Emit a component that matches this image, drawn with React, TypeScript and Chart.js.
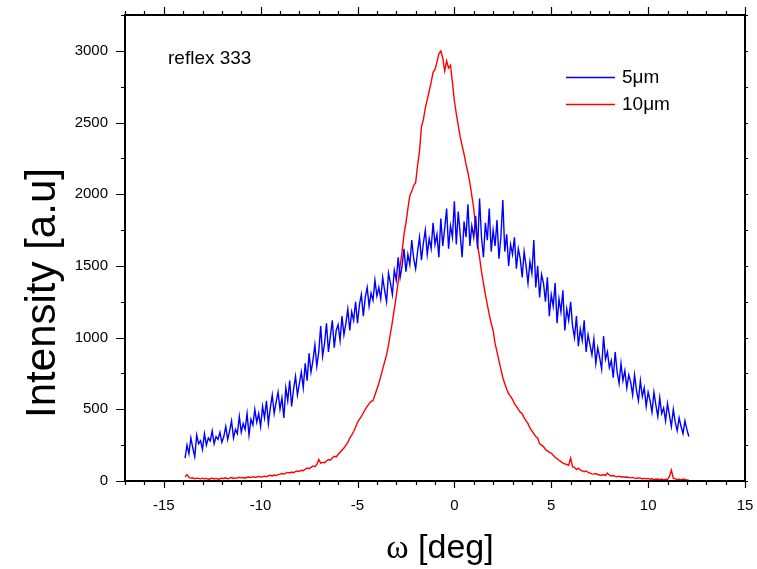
import React, { useEffect, useRef } from "react";
import { Chart, registerables } from "chart.js";

Chart.register(...registerables);

// Sampling grid of omega (deg): first value and spacing
const X_START = -13.9;
const X_STEP = 0.1;

// 5 µm sample intensities (a.u.), one per grid point from -13.9 to 12.1
const BLUE_5UM = [
  160, 250, 190, 300, 230, 170, 320, 260, 280, 220,
  330, 250, 300, 280, 350, 260, 310, 290, 340, 270,
  310, 380, 290, 350, 420, 300, 360, 330, 450, 340,
  400, 360, 470, 320, 430, 390, 500, 410, 470, 380,
  520, 440, 560, 400, 510, 600, 470, 550, 620, 500,
  580, 440, 650, 560, 700, 520, 640, 730, 600, 680,
  760, 650, 820, 700, 890, 760, 840, 950, 800, 900,
  1080, 870, 960, 1100, 900, 1010, 1120, 930, 1050, 1090,
  980, 1150, 1020, 1100, 1200, 1050, 1180, 1120, 1250, 1100,
  1230, 1300, 1150, 1280, 1350, 1220, 1310, 1260, 1400, 1290,
  1350, 1270, 1420, 1330, 1250, 1450, 1380, 1300, 1470, 1400,
  1560, 1420, 1500, 1620, 1460, 1580, 1510, 1680, 1550, 1480,
  1600, 1700, 1540, 1660, 1750, 1580, 1690, 1620, 1800, 1650,
  1720, 1560, 1830, 1640, 1760, 1900, 1620, 1780, 1700, 1950,
  1650, 1880, 1720, 1560, 1810, 1700, 1930, 1640, 1780, 1700,
  1850, 1620, 1970, 1700, 1560, 1800, 1680, 1900, 1600, 1750,
  1640, 1820, 1550, 1700, 1960, 1600, 1720, 1500, 1650, 1580,
  1700, 1480, 1620, 1550, 1420, 1600, 1500, 1380, 1530, 1450,
  1680, 1350, 1500, 1280, 1440, 1380, 1250, 1420, 1150, 1300,
  1220, 1380, 1100, 1270, 1180, 1330, 1050, 1200, 1120, 1250,
  1080, 1000, 1150, 940, 1060, 980, 1120, 900, 1020, 950,
  880, 990, 820, 930, 860, 780, 1010, 850, 900, 790,
  840, 720, 900, 760, 680, 820, 700, 770, 650, 740,
  690, 600, 740, 630, 560, 700, 590, 650, 520, 620,
  560, 480, 620, 530, 450, 580, 470, 510, 420, 540,
  460, 380, 500, 410, 350, 440, 380, 330, 420, 360,
  310,
];

// 10 µm sample intensities (a.u.), same grid
const RED_10UM = [
  30, 45, 25, 20, 22, 15, 20, 18, 15, 20,
  15, 18, 12, 16, 20, 14, 18, 12, 16, 20,
  18, 22, 15, 20, 24, 18, 22, 20, 26, 22,
  24, 20, 26, 28, 24, 30, 26, 28, 32, 28,
  30, 34, 30, 36, 40, 35, 42, 38, 45, 48,
  52, 48, 55, 60, 56, 62, 58, 65, 70, 66,
  75, 72, 82, 90, 86, 95, 105, 100, 115, 150,
  125, 130, 128, 140, 150, 145, 160, 172, 168, 185,
  200, 215, 230, 250, 270, 300, 320, 345, 375, 410,
  430, 450, 475, 500, 520, 540, 555, 560, 600, 640,
  680, 730, 780, 830, 880, 950, 1030, 1110, 1200, 1290,
  1390, 1500, 1600, 1720, 1800, 1900, 1990, 2020, 2060, 2080,
  2200, 2300, 2470, 2520, 2600, 2660, 2720, 2780, 2850, 2870,
  2920, 2980, 3000, 2950, 2860, 2930, 2880, 2900, 2780, 2650,
  2560, 2480, 2400, 2340, 2280, 2210, 2150, 2080, 1990, 1900,
  1760, 1640, 1560, 1460, 1380, 1300, 1230, 1160, 1100, 1050,
  960, 900, 840, 780, 720, 680, 640, 610, 590, 570,
  540, 520, 500, 480, 470, 440, 420, 400, 370, 350,
  330, 310, 300, 260, 250, 240, 220, 210, 200, 195,
  180, 165, 155, 145, 135, 125, 120, 115, 110, 160,
  100, 95, 80, 90, 75, 70, 65, 70, 60, 55,
  50, 48, 52, 45, 42, 40, 45, 38, 55, 40,
  35, 38, 32, 30, 34, 28, 30, 26, 28, 25,
  22, 25, 20, 18, 22, 20, 16, 18, 15, 18,
  12, 15, 10, 14, 12, 10, 14, 8, 12, 10,
  30, 75, 20, 15, 10, 12, 8, 14, 10, 8,
  5,
];

const X_MIN = -17;
const X_MAX = 15;
const Y_MIN = 0;
const Y_MAX = 3250;
const X_TICKS = [-15, -10, -5, 0, 5, 10, 15];
const Y_TICKS = [0, 500, 1000, 1500, 2000, 2500, 3000];
const SERIES_LABELS = ["5\u03bcm", "10\u03bcm"];
const SERIES_COLORS = ["#0000ff", "#ff0000"];
const ANNOTATION = "reflex 333";
const X_TITLE_SYMBOL = "\u03c9";
const X_TITLE_REST = " [deg]";
const Y_TITLE = "Intensity [a.u]";

const SANS = "'Liberation Sans', Arial, sans-serif";
const SERIF = "'Liberation Serif', 'Times New Roman', serif";

function toPoints(values: number[]) {
  return values.map((y, i) => ({ x: Math.round((X_START + i * X_STEP) * 10) / 10, y }));
}

const decoPlugin = {
  id: "deco",
  afterDraw(chart: any) {
    const { ctx, chartArea: a, scales } = chart;
    const xs = scales.x;
    const ys = scales.y;
    ctx.save();
    ctx.strokeStyle = "#000";
    ctx.lineWidth = 1.2;
    ctx.beginPath();
    for (let v = X_MIN; v <= X_MAX; v++) {
      const px = Math.round(xs.getPixelForValue(v)) + 0.5;
      const major = v % 5 === 0;
      ctx.moveTo(px, a.bottom);
      ctx.lineTo(px, a.bottom + (major ? 7 : 4));
      ctx.moveTo(px, a.top);
      ctx.lineTo(px, a.top - (major ? 8 : 4));
    }
    for (let v = Y_MIN; v <= Y_MAX; v += 250) {
      const py = Math.round(ys.getPixelForValue(v)) + 0.5;
      const major = v % 500 === 0;
      ctx.moveTo(a.left, py);
      ctx.lineTo(a.left - (major ? 9 : 4), py);
      ctx.moveTo(a.right, py);
      ctx.lineTo(a.right + 3, py);
    }
    ctx.stroke();
    ctx.lineWidth = 2;
    ctx.strokeRect(a.left, a.top, a.right - a.left, a.bottom - a.top);

    // legend
    ctx.lineWidth = 1.5;
    const legendY = [77, 104];
    SERIES_LABELS.forEach((lab, i) => {
      ctx.strokeStyle = SERIES_COLORS[i];
      ctx.beginPath();
      ctx.moveTo(566, legendY[i] + 0.5);
      ctx.lineTo(615, legendY[i] + 0.5);
      ctx.stroke();
      ctx.fillStyle = "#000";
      ctx.font = `19px ${SANS}`;
      ctx.textAlign = "left";
      ctx.textBaseline = "alphabetic";
      ctx.fillText(lab, 622, legendY[i] + 6);
    });

    // annotation
    ctx.font = `19px ${SANS}`;
    ctx.fillText(ANNOTATION, 168, 64);

    // x title
    ctx.font = `34px ${SERIF}`;
    const w1 = ctx.measureText(X_TITLE_SYMBOL).width;
    ctx.font = `34px ${SANS}`;
    const w2 = ctx.measureText(X_TITLE_REST).width;
    const start = 440 - (w1 + w2) / 2;
    ctx.font = `34px ${SERIF}`;
    ctx.fillText(X_TITLE_SYMBOL, start, 558);
    ctx.font = `34px ${SANS}`;
    ctx.fillText(X_TITLE_REST, start + w1, 558);

    // y title
    ctx.save();
    ctx.translate(55, 293);
    ctx.rotate(-Math.PI / 2);
    ctx.textAlign = "center";
    ctx.font = `42px ${SANS}`;
    ctx.fillText(Y_TITLE, 0, 0);
    ctx.restore();

    ctx.restore();
  },
};

export default function App() {
  const ref = useRef<HTMLCanvasElement | null>(null);
  useEffect(() => {
    if (!ref.current) return;
    const chart = new Chart(ref.current, {
      type: "line",
      data: {
        datasets: [
          {
            label: SERIES_LABELS[0],
            data: toPoints(BLUE_5UM),
            borderColor: SERIES_COLORS[0],
            borderWidth: 1.4,
            pointRadius: 0,
            tension: 0,
            fill: false,
          },
          {
            label: SERIES_LABELS[1],
            data: toPoints(RED_10UM),
            borderColor: SERIES_COLORS[1],
            borderWidth: 1.4,
            pointRadius: 0,
            tension: 0,
            fill: false,
          },
        ],
      },
      options: {
        animation: false,
        responsive: true,
        maintainAspectRatio: false,
        layout: { padding: { left: 0, right: 12, top: 0, bottom: 0 } },
        plugins: { legend: { display: false }, tooltip: { enabled: false } },
        scales: {
          x: {
            type: "linear",
            position: "bottom",
            min: X_MIN,
            max: X_MAX,
            afterBuildTicks: (s: any) => {
              s.ticks = X_TICKS.map((v) => ({ value: v }));
            },
            afterFit: (s: any) => {
              s.height = 88;
              s.paddingLeft = 0;
              s.paddingRight = 0;
            },
            grid: { display: false, drawTicks: false },
            border: { display: false },
            ticks: {
              padding: 16,
              maxRotation: 0,
              autoSkip: false,
              color: "#000",
              font: { family: SANS, size: 15 },
              callback: (v: any) => String(v),
            },
          },
          x2: {
            type: "linear",
            position: "top",
            min: X_MIN,
            max: X_MAX,
            afterFit: (s: any) => {
              s.height = 15;
              s.paddingLeft = 0;
              s.paddingRight = 0;
            },
            grid: { display: false, drawTicks: false },
            border: { display: false },
            ticks: { display: false },
          },
          y: {
            type: "linear",
            position: "left",
            min: Y_MIN,
            max: Y_MAX,
            afterBuildTicks: (s: any) => {
              s.ticks = Y_TICKS.map((v) => ({ value: v }));
            },
            afterFit: (s: any) => {
              s.width = 125;
              s.paddingTop = 0;
              s.paddingBottom = 0;
            },
            grid: { display: false, drawTicks: false },
            border: { display: false },
            ticks: {
              padding: 17,
              autoSkip: false,
              color: "#000",
              font: { family: SANS, size: 15 },
              callback: (v: any) => String(v),
            },
          },
        },
      },
      plugins: [decoPlugin],
    });
    return () => chart.destroy();
  }, []);
  return (
    <div style={{ position: "fixed", left: 0, top: 0, width: 757, height: 569, background: "#fff" }}>
      <canvas ref={ref} />
    </div>
  );
}
